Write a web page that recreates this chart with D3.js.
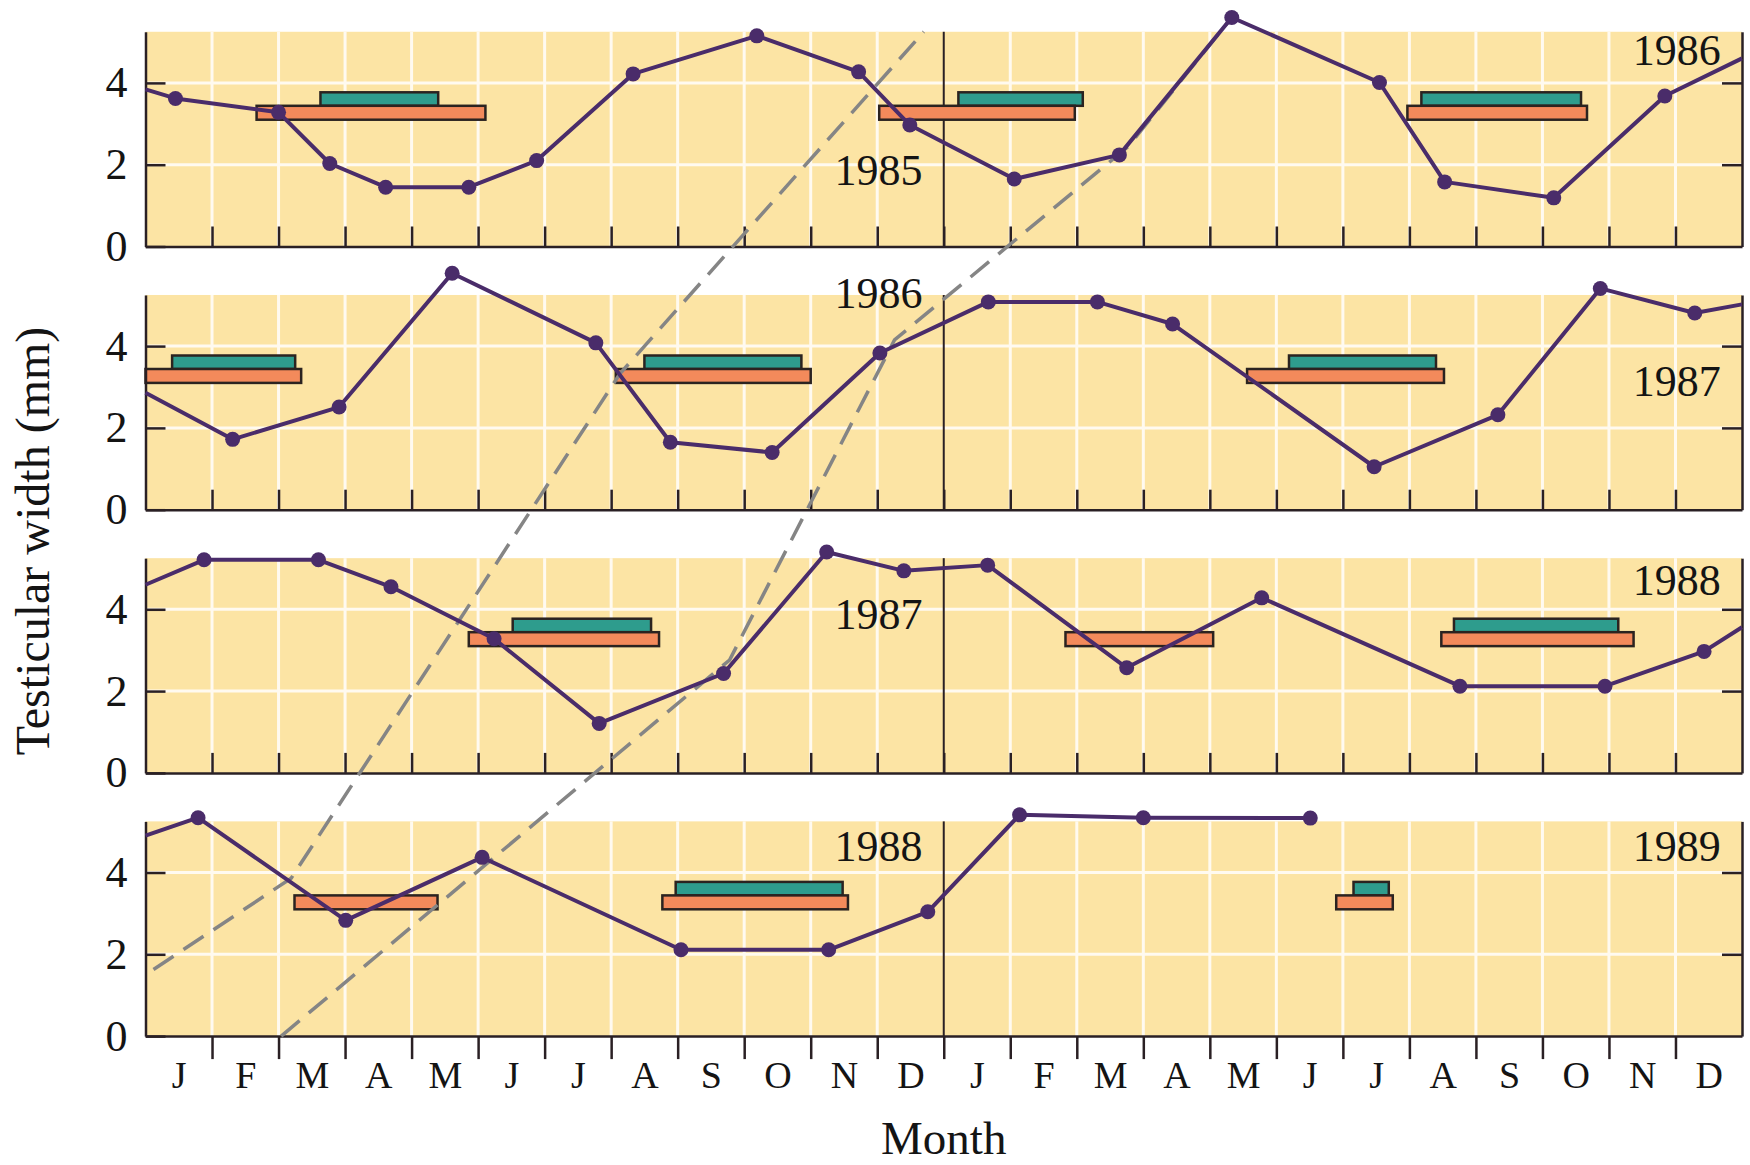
<!DOCTYPE html>
<html>
<head>
<meta charset="utf-8">
<script src="https://cdn.jsdelivr.net/npm/d3@7"></script>
<style>
  html, body { margin: 0; padding: 0; background: #fff; }
  svg { display: block; font-family: 'Liberation Serif', 'Times New Roman', serif; }
</style>
</head>
<body>
<svg id="chart" width="1750" height="1165"></svg>
<script>
// MONTH LABELS (TWO YEARS PER ROW)
const months = ['J', 'F', 'M', 'A', 'M', 'J', 'J', 'A', 'S', 'O', 'N', 'D',
                'J', 'F', 'M', 'A', 'M', 'J', 'J', 'A', 'S', 'O', 'N', 'D'];
const midYears = ['1985', '1986', '1987', '1988'];
const endYears = ['1986', '1987', '1988', '1989'];
const yTicks = [0, 2, 4];

// TESTICULAR WIDTH (mm) — [month position from Jan 1 of first year, width]
// points at 0 or 24 are where the line leaves the panel (no dot)
const row1985 = [[0, 3.84], [0.45, 3.62], [2.0, 3.28], [2.77, 2.03], [3.61, 1.45], [4.86, 1.45],
  [5.88, 2.1], [7.33, 4.22], [9.19, 5.15], [10.72, 4.27], [11.49, 2.97], [13.06, 1.65],
  [14.64, 2.24], [16.33, 5.6], [18.55, 4.01], [19.53, 1.58], [21.17, 1.19], [22.84, 3.68], [24, 4.6]];
const row1986 = [[0, 2.86], [1.31, 1.72], [2.91, 2.51], [4.61, 5.78], [6.77, 4.08], [7.89, 1.65],
  [9.42, 1.4], [11.04, 3.83], [12.67, 5.08], [14.31, 5.08], [15.44, 4.54], [18.47, 1.05],
  [20.33, 2.32], [21.87, 5.41], [23.29, 4.81], [24, 5.02]];
const row1987 = [[0, 4.6], [0.88, 5.21], [2.6, 5.21], [3.69, 4.55], [5.24, 3.28], [6.82, 1.21],
  [8.69, 2.43], [10.24, 5.4], [11.4, 4.94], [12.66, 5.08], [14.75, 2.57], [16.78, 4.28],
  [19.76, 2.12], [21.94, 2.12], [23.43, 2.97], [24, 3.56]];
const row1988 = [[0, 4.9], [0.79, 5.34], [3.01, 2.83], [5.06, 4.37], [8.05, 2.11], [10.27, 2.11],
  [11.76, 3.04], [13.14, 5.41], [15.0, 5.34], [17.51, 5.33]];
const rows = [row1985, row1986, row1987, row1988];

// ORANGE AND TEAL PERIOD BARS — [start month, end month]
const orangeBars = [
  [[1.67, 5.11], [11.03, 13.97], [18.97, 21.67]],
  [[0, 2.34], [7.07, 10.0], [16.56, 19.52]],
  [[4.86, 7.72], [13.83, 16.05], [19.48, 22.37]],
  [[2.24, 4.39], [7.77, 10.56], [17.9, 18.75]],
];
const tealBars = [
  [[2.63, 4.4], [12.22, 14.09], [19.18, 21.58]],
  [[0.4, 2.25], [7.5, 9.86], [17.19, 19.4]],
  [[5.52, 7.6], [19.67, 22.14]],
  [[7.97, 10.48], [18.16, 18.69]],
];

// DASHED GUIDE LINES — [row, month, width]
const guideA = [[3, 0.12, 1.63], [3, 2.19, 3.86], [1, 7.13, 3.32], [0, 11.7, 5.25]];
const guideB = [[3, 2.04, 0], [2, 8.78, 2.76], [1, 11.26, 4.15], [0, 14.77, 2.44], [0, 16.33, 5.6]];

// LAYOUT
const X0 = 145.5, X1 = 1742;
const BASE0 = 246.5, STEP = 263.2, PX = 40.9, VMAX = 5.25;
const ORANGE_V = [3.1, 3.44], TEAL_V = [3.44, 3.77];
const midPos = [1.5, 4.92, 3.51, 4.28];
const endPos = [4.44, 2.78, 4.35, 4.28];

const C = {
  bg: '#fce4a4', grid: '#fffaf0', axis: '#2a2024', line: '#4a2c6a',
  orange: '#f38a5b', teal: '#2e9c8d', barStroke: '#2b2320', dash: '#858585', text: '#141414',
};

const svg = d3.select('#chart');
svg.append('rect').attr('width', 1750).attr('height', 1165).attr('fill', '#fff');

const x = d3.scaleLinear().domain([0, 24]).range([X0, X1]);
const ys = rows.map((_, i) => {
  const b = BASE0 + i * STEP;
  return d3.scaleLinear().domain([0, VMAX]).range([b, b - VMAX * PX]);
});

// PANELS
rows.forEach((row, i) => {
  const y = ys[i];
  const g = svg.append('g').attr('class', 'panel');

  g.append('rect')
    .attr('x', x(0)).attr('y', y(VMAX))
    .attr('width', x(24) - x(0)).attr('height', y(0) - y(VMAX))
    .attr('fill', C.bg);

  // WHITE GRID
  g.selectAll('.vg')
    .data(d3.range(1, 24).filter((m) => m !== 12))
    .enter().append('line')
    .attr('x1', (m) => x(m)).attr('x2', (m) => x(m))
    .attr('y1', y(VMAX)).attr('y2', y(0))
    .attr('stroke', C.grid).attr('stroke-width', 3);

  g.selectAll('.hg')
    .data([2, 4])
    .enter().append('line')
    .attr('x1', x(0)).attr('x2', x(24))
    .attr('y1', (v) => y(v)).attr('y2', (v) => y(v))
    .attr('stroke', C.grid).attr('stroke-width', 3);

  // YEAR DIVIDER
  g.append('line')
    .attr('x1', x(12)).attr('x2', x(12))
    .attr('y1', y(VMAX)).attr('y2', y(0))
    .attr('stroke', C.axis).attr('stroke-width', 2);

  // BARS
  const bar = (data, v, fill) => g.selectAll(null)
    .data(data)
    .enter().append('rect')
    .attr('x', (d) => x(d[0])).attr('y', y(v[1]))
    .attr('width', (d) => x(d[1]) - x(d[0])).attr('height', y(v[0]) - y(v[1]))
    .attr('fill', fill).attr('stroke', C.barStroke).attr('stroke-width', 2.5);
  bar(tealBars[i], TEAL_V, C.teal);
  bar(orangeBars[i], ORANGE_V, C.orange);

  // AXES
  const last = i === rows.length - 1;
  const ax = g.append('g')
    .attr('transform', `translate(0,${y(0)})`)
    .call(d3.axisBottom(x).tickValues(d3.range(1, 24)).tickSize(last ? 23 : -20).tickSizeOuter(0).tickFormat(''));

  const ayL = g.append('g')
    .attr('transform', `translate(${x(0)},0)`)
    .call(d3.axisLeft(y).tickValues(yTicks).tickSize(-20).tickSizeOuter(0).tickPadding(18).tickFormat(d3.format('d')));
  ayL.selectAll('text').attr('font-size', 44).attr('fill', C.text).attr('font-family', 'Liberation Serif');

  const ayR = g.append('g')
    .attr('transform', `translate(${x(24)},0)`)
    .call(d3.axisRight(y).tickValues([2, 4]).tickSize(-20).tickSizeOuter(0).tickFormat(''));

  [ax, ayL, ayR].forEach((a) => {
    a.selectAll('path, line').attr('stroke', C.axis).attr('stroke-width', 2.5);
  });
});

// DASHED GUIDES
const gline = d3.line()
  .x((d) => x(d[1]))
  .y((d) => ys[d[0]](d[2]));

[guideA, guideB].forEach((gd) => {
  svg.append('path')
    .datum(gd)
    .attr('fill', 'none')
    .attr('stroke', C.dash)
    .attr('stroke-width', 3.5)
    .attr('stroke-dasharray', '24,12')
    .attr('d', gline);
});

// DATA LINES AND DOTS
rows.forEach((row, i) => {
  const y = ys[i];
  const line = d3.line().x((d) => x(d[0])).y((d) => y(d[1]));

  svg.append('path')
    .datum(row)
    .attr('fill', 'none')
    .attr('stroke', C.line)
    .attr('stroke-width', 4)
    .attr('stroke-linejoin', 'round')
    .attr('d', line);

  svg.selectAll(null)
    .data(row.filter((d) => d[0] > 0 && d[0] < 24))
    .enter().append('circle')
    .attr('cx', (d) => x(d[0])).attr('cy', (d) => y(d[1]))
    .attr('r', 7.5)
    .attr('fill', C.line);

  // YEAR LABELS
  svg.append('text')
    .attr('x', x(11.68)).attr('y', y(midPos[i]))
    .attr('text-anchor', 'end').attr('font-size', 44).attr('fill', C.text)
    .text(midYears[i]);

  svg.append('text')
    .attr('x', x(23.68)).attr('y', y(endPos[i]))
    .attr('text-anchor', 'end').attr('font-size', 44).attr('fill', C.text)
    .text(endYears[i]);
});

// MONTH LABELS
const yb = ys[ys.length - 1](0);
const mAxis = svg.append('g')
  .attr('transform', `translate(0,${yb})`)
  .call(d3.axisBottom(x).tickValues(d3.range(24).map((m) => m + 0.5)).tickSize(0).tickFormat((d, k) => months[k]));
mAxis.select('.domain').remove();
mAxis.selectAll('text')
  .attr('y', 52).attr('dy', null)
  .attr('font-size', 38).attr('fill', C.text).attr('font-family', 'Liberation Serif');

// AXIS TITLES
svg.append('text')
  .attr('x', x(12)).attr('y', 1154)
  .attr('text-anchor', 'middle').attr('font-size', 47).attr('fill', C.text)
  .text('Month');

svg.append('text')
  .attr('transform', `translate(49,${(ys[0](VMAX) + yb) / 2 + 7}) rotate(-90)`)
  .attr('text-anchor', 'middle').attr('font-size', 48).attr('fill', C.text)
  .text('Testicular width (mm)');
</script>
</body>
</html>
